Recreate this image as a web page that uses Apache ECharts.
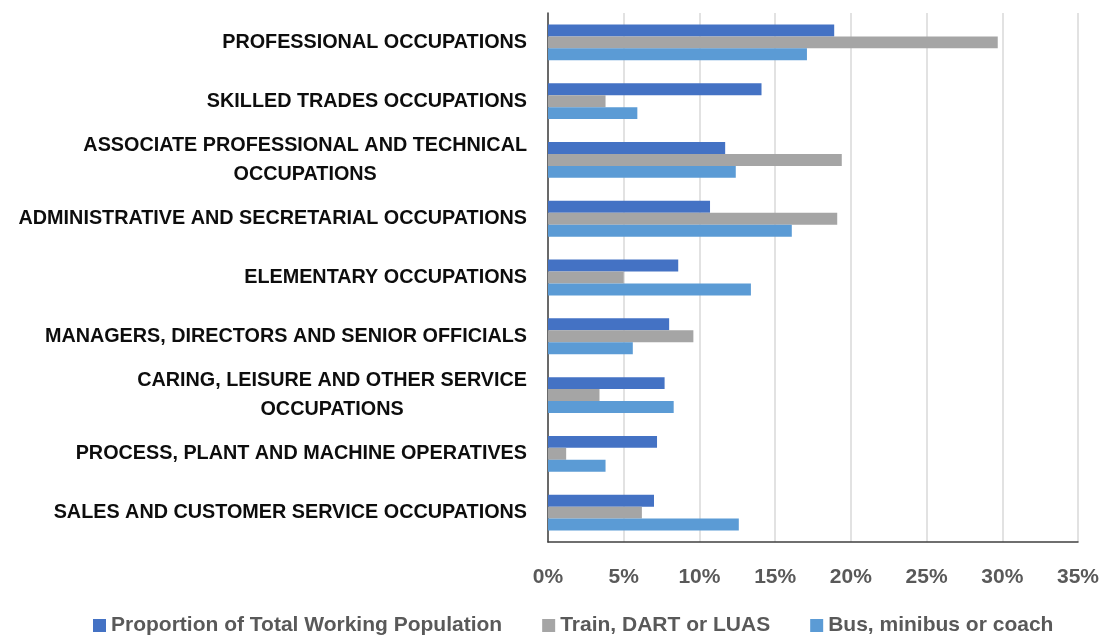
<!DOCTYPE html>
<html>
<head>
<meta charset="utf-8">
<script src="https://cdn.jsdelivr.net/npm/echarts@6/dist/echarts.min.js"></script>
<style>
  html, body { margin: 0; padding: 0; background: #fff; }
  #chart { width: 1103px; height: 637px; }
</style>
</head>
<body>
<div id="chart"></div>
<script>
// occupations, top to bottom
const categories = [
    'PROFESSIONAL OCCUPATIONS',
    'SKILLED TRADES OCCUPATIONS',
    'ASSOCIATE PROFESSIONAL AND TECHNICAL\nOCCUPATIONS',
    'ADMINISTRATIVE AND SECRETARIAL OCCUPATIONS',
    'ELEMENTARY OCCUPATIONS',
    'MANAGERS, DIRECTORS AND SENIOR OFFICIALS',
    'CARING, LEISURE AND OTHER SERVICE\nOCCUPATIONS',
    'PROCESS, PLANT AND MACHINE OPERATIVES',
    'SALES AND CUSTOMER SERVICE OCCUPATIONS'
];

// values in %
const totalWorking = [18.9, 14.1, 11.7, 10.7, 8.6, 8.0, 7.7, 7.2, 7.0];
const trainDartLuas = [29.7, 3.8, 19.4, 19.1, 5.0, 9.6, 3.4, 1.2, 6.2];
const busCoach = [17.1, 5.9, 12.4, 16.1, 13.4, 5.6, 8.3, 3.8, 12.6];

const seriesNames = [
    'Proportion of Total Working Population',
    'Train, DART or LUAS',
    'Bus, minibus or coach'
];

const font = '"Liberation Sans", Arial, sans-serif';

const chart = echarts.init(document.getElementById('chart'));

function barSeries(name, data, color) {
    return {
        name: name,
        type: 'bar',
        data: data,
        barGap: '0%',
        barCategoryGap: '39%',
        itemStyle: { color: color },
        emphasis: { disabled: true }
    };
}

chart.setOption({
    animation: false,
    textStyle: { fontFamily: font },
    grid: { left: 548, right: 25, top: 13, bottom: 95, containLabel: false, outerBoundsMode: 'none' },
    legend: {
        top: 610,
        left: 88,
        itemWidth: 13,
        itemHeight: 13,
        itemGap: 40,
        icon: 'rect',
        textStyle: { fontSize: 21, fontWeight: 'bold', color: '#595959', fontFamily: font },
        data: seriesNames
    },
    xAxis: {
        type: 'value',
        min: 0,
        max: 35,
        interval: 5,
        axisLine: { show: true, lineStyle: { color: '#404040', width: 1.5 } },
        axisTick: { show: false },
        splitLine: { lineStyle: { color: '#d9d9d9', width: 1.5 } },
        axisLabel: {
            formatter: '{value}%',
            margin: 25,
            fontSize: 21,
            fontWeight: 'bold',
            color: '#595959'
        }
    },
    yAxis: {
        type: 'category',
        inverse: true,
        data: categories,
        axisLine: { show: true, lineStyle: { color: '#404040', width: 1.5 } },
        axisTick: { show: false },
        axisLabel: {
            margin: 21,
            align: 'right',
            formatter: function (v) {
                return v.split('\n').map(l => '{c|' + l + '}').join('\n');
            },
            rich: {
                c: {
                    align: 'center',
                    fontSize: 19.8,
                    fontWeight: 'bold',
                    color: '#0d0d0d',
                    lineHeight: 29,
                    fontFamily: font
                }
            }
        }
    },
    series: [
        barSeries(seriesNames[0], totalWorking, '#4472C4'),
        barSeries(seriesNames[1], trainDartLuas, '#A5A5A5'),
        barSeries(seriesNames[2], busCoach, '#5B9BD5')
    ]
});
</script>
</body>
</html>
